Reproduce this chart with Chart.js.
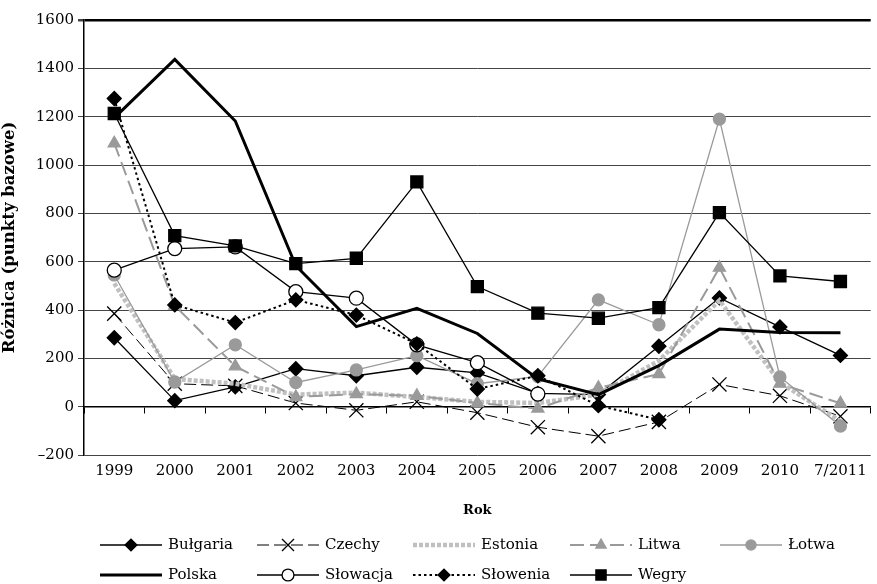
<!DOCTYPE html>
<html>
<head>
<meta charset="utf-8">
<script src="https://cdn.jsdelivr.net/npm/chart.js@4"></script>
<style>
  html, body { margin: 0; padding: 0; overflow: hidden; background: #fff; }
</style>
</head>
<body>
<canvas id="myChart" width="882" height="584"></canvas>
<script>
const years = ['1999', '2000', '2001', '2002', '2003', '2004', '2005', '2006', '2007', '2008', '2009', '2010', '7/2011']
const yTicks = [-200, 0, 200, 400, 600, 800, 1000, 1200, 1400, 1600]

const bulgaria = [285, 25, 82, 157, 128, 163, 140, 55, 50, 250, 450, 330, 212]
const czechy = [385, 95, 86, 15, -15, 20, -25, -85, -122, -63, 92, 45, -40]
const estonia = [510, 115, 95, 50, 58, 40, 20, 15, 50, 190, 440, 100, -60]
const litwa = [1090, 418, 167, 40, 52, 45, 15, -8, 78, 135, 575, 95, 14]
const lotwa = [545, 102, 256, 100, 152, 211, 95, 125, 442, 339, 1190, 123, -80]
const polska = [1195, 1437, 1182, 583, 331, 407, 303, 115, 50, 170, 321, 307, 306]
const slowacja = [565, 654, 661, 476, 449, 256, 182, 52, null, null, null, null, null]
const slowenia = [1275, 421, 348, 442, 379, 260, 73, 128, 4, -54, null, null, null]
const wegry = [1213, 708, 665, 592, 614, 930, 497, 387, 366, 410, 803, 541, 518]

const FONT = "'DejaVu Serif', serif"

const series = [
  { label: 'Bułgaria', data: bulgaria, borderColor: '#000', borderWidth: 1.3, borderDash: [],
    pointStyle: 'rectRot', pointRadius: 7, pointBackgroundColor: '#000', pointBorderColor: '#000' },
  { label: 'Czechy', data: czechy, borderColor: '#000', borderWidth: 1, borderDash: [12, 5],
    pointStyle: 'crossRot', pointRadius: 10, pointBackgroundColor: '#000', pointBorderColor: '#000' },
  { label: 'Estonia', data: estonia, borderColor: '#c0c0c0', borderWidth: 4.5, borderDash: [4, 2],
    pointStyle: false, pointRadius: 0 },
  { label: 'Litwa', data: litwa, borderColor: '#9a9a9a', borderWidth: 2, borderDash: [14, 6],
    pointStyle: 'triangle', pointRadius: 7, pointBackgroundColor: '#9a9a9a', pointBorderColor: '#9a9a9a' },
  { label: 'Łotwa', data: lotwa, borderColor: '#9a9a9a', borderWidth: 1.3, borderDash: [],
    pointStyle: 'circle', pointRadius: 6, pointBackgroundColor: '#9a9a9a', pointBorderColor: '#9a9a9a' },
  { label: 'Polska', data: polska, borderColor: '#000', borderWidth: 3, borderDash: [],
    pointStyle: false, pointRadius: 0 },
  { label: 'Słowacja', data: slowacja, borderColor: '#000', borderWidth: 1.3, borderDash: [],
    pointStyle: 'circle', pointRadius: 7, pointBackgroundColor: '#fff', pointBorderColor: '#000' },
  { label: 'Słowenia', data: slowenia, borderColor: '#000', borderWidth: 2, borderDash: [2.5, 3],
    pointStyle: 'rectRot', pointRadius: 7, pointBackgroundColor: '#000', pointBorderColor: '#000' },
  { label: 'Wegry', data: wegry, borderColor: '#000', borderWidth: 1.3, borderDash: [],
    pointStyle: 'rect', pointRadius: 8.5, pointBackgroundColor: '#000', pointBorderColor: '#000' }
]

// legend slots: column x, row
const legendCols = [100, 257, 413, 570, 720]

const lineLegend = {
  id: 'lineLegend',
  afterDraw(chart) {
    const ctx = chart.ctx
    const rows = [545, 575]
    ctx.save()
    chart.data.datasets.forEach((ds, i) => {
      const col = i < 5 ? i : i - 5
      const x = legendCols[col]
      const y = rows[i < 5 ? 0 : 1]
      const w = 62
      ctx.beginPath()
      ctx.setLineDash(ds.borderDash)
      ctx.lineWidth = ds.borderWidth
      ctx.strokeStyle = ds.borderColor
      ctx.moveTo(x, y)
      ctx.lineTo(x + w, y)
      ctx.stroke()
      ctx.setLineDash([])
      if (ds.pointStyle) {
        ctx.fillStyle = ds.pointBackgroundColor
        ctx.strokeStyle = ds.pointBorderColor
        ctx.lineWidth = 1.3
        Chart.helpers.drawPoint(ctx, { pointStyle: ds.pointStyle, radius: ds.pointRadius * 0.85, rotation: 0, borderWidth: 1.3 }, x + w / 2, y)
      }
      ctx.fillStyle = '#000'
      ctx.font = '15px ' + FONT
      ctx.textBaseline = 'middle'
      ctx.textAlign = 'left'
      ctx.fillText(ds.label, x + w + 6, y)
    })
    ctx.restore()
  }
}

const ctx = document.getElementById('myChart')
new Chart(ctx, {
  type: 'line',
  data: {
    labels: years,
    datasets: series.map((s, i) => ({
      ...s,
      fill: false,
      tension: 0,
      spanGaps: false,
      pointBorderWidth: 1.3,
      pointHoverRadius: s.pointRadius,
      order: series.length - i
    }))
  },
  options: {
    responsive: false,
    animation: false,
    devicePixelRatio: 1,
    layout: { padding: { top: 20, right: 0, bottom: 64, left: 0 } },
    plugins: { legend: { display: false }, tooltip: { enabled: false } },
    scales: {
      y: {
        min: -200,
        max: 1600,
        afterBuildTicks: (scale) => { scale.ticks = yTicks.map(v => ({ value: v })) },
        afterFit: (scale) => { scale.width = 84 },
        ticks: {
          font: { family: FONT, size: 15 },
          color: '#000',
          padding: 4,
          callback: (v) => v < 0 ? '\u2013' + Math.abs(v) : String(v)
        },
        grid: {
          color: (c) => c.tick && c.tick.value === 1600 ? '#000' : '#444',
          lineWidth: (c) => c.tick && c.tick.value === 1600 ? 2.5 : 1,
          tickLength: 6,
          tickColor: '#444'
        },
        border: { color: '#000', width: 1.5 },
        title: {
          display: true,
          text: 'Różnica (punkty bazowe)',
          font: { family: FONT, size: 16.5, weight: 'bold' },
          color: '#000',
          padding: { top: 0, bottom: 4 }
        }
      },
      x: {
        offset: true,
        afterFit: (scale) => { scale.height = 65 },
        ticks: {
          font: { family: FONT, size: 15 },
          color: '#000',
          padding: 7,
          maxRotation: 0,
          autoSkip: false
        },
        grid: { display: false, drawTicks: false },
        border: { display: false },
        title: {
          display: true,
          text: 'Rok',
          font: { family: FONT, size: 13, weight: 'bold' },
          color: '#000',
          padding: { top: 0, bottom: 2 }
        }
      },
      x2: {
        type: 'category',
        position: { y: 0 },
        offset: true,
        ticks: { display: false },
        grid: { offset: true, drawOnChartArea: false, tickLength: 6, color: '#000', lineWidth: 1 },
        border: { color: '#000', width: 1.5 }
      }
    }
  },
  plugins: [lineLegend]
})
</script>
</body>
</html>
